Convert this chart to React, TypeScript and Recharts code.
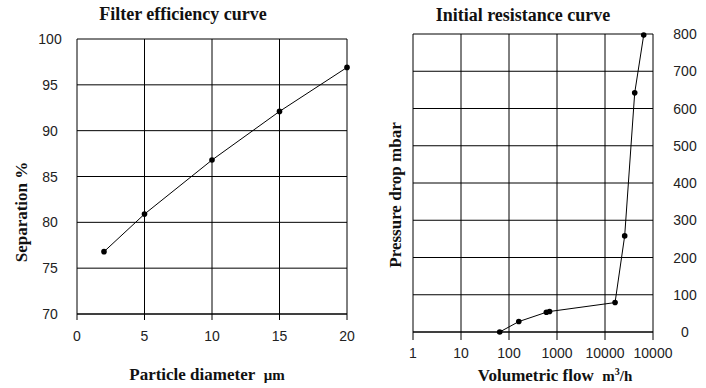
import { LineChart, Line, XAxis, YAxis, CartesianGrid } from "recharts";

// Filter efficiency curve
const diameters = [2, 5, 10, 15, 20];
const separation = [76.8, 80.9, 86.8, 92.1, 96.9];
const diameterTicks = [0, 5, 10, 15, 20];
const separationTicks = [70, 75, 80, 85, 90, 95, 100];

// Initial resistance curve
const flows = [64, 160, 600, 700, 16200, 25700, 41600, 64000];
const drops = [0, 28, 53, 55, 79, 258, 642, 797];
const flowTicks = [1, 10, 100, 1000, 10000, 100000];
const flowTickLabels = ["1", "10", "100", "1000", "10000", "10000"];
const dropTicks = [0, 100, 200, 300, 400, 500, 600, 700, 800];

const effData = diameters.map((d, i) => ({ d, sep: separation[i] }));
const resData = flows.map((f, i) => ({ f, p: drops[i] }));

const TICK_FONT = "'Liberation Sans', Arial, sans-serif";
const SERIF = "'Liberation Serif', 'Times New Roman', serif";

const tickText = (x: number, y: number, label: string) => (
  <text
    x={x}
    y={y}
    textAnchor="middle"
    dominantBaseline="central"
    fontFamily={TICK_FONT}
    fontSize={14}
    fill="#222"
  >
    {label}
  </text>
);

const Dot = (props: any) => {
  const { cx, cy } = props;
  if (cx == null || cy == null) return null;
  return <circle cx={cx} cy={cy} r={2.8} fill="#000" />;
};

const label = (
  text: React.ReactNode,
  x: number,
  y: number,
  size: number,
  rotate = false
) => (
  <div
    style={{
      position: "absolute",
      left: x,
      top: y,
      transform: `translate(-50%, -50%)${rotate ? " rotate(-90deg)" : ""}`,
      whiteSpace: "nowrap",
      fontFamily: SERIF,
      fontWeight: "bold",
      fontSize: size,
      lineHeight: 1,
      color: "#111",
    }}
  >
    {text}
  </div>
);

export default function App() {
  return (
    <div
      style={{
        position: "absolute",
        left: 0,
        top: 0,
        width: 706,
        height: 388,
        background: "#fff",
        overflow: "hidden",
      }}
    >
      <div style={{ position: "absolute", left: 0, top: 0 }}>
        <LineChart
          width={360}
          height={388}
          data={effData}
          margin={{ top: 39, right: 13, left: 0, bottom: 44 }}
        >
          <CartesianGrid stroke="#000" strokeWidth={1} />
          <XAxis
            dataKey="d"
            type="number"
            domain={[0, 20]}
            ticks={diameterTicks}
            interval={0}
            height={30}
            axisLine={{ stroke: "#000" }}
            tickLine={{ stroke: "#000" }}
            tickSize={6}
            tick={(p: any) => tickText(p.x, 336, String(p.payload.value))}
          />
          <YAxis
            type="number"
            domain={[70, 100]}
            ticks={separationTicks}
            interval={0}
            width={77}
            axisLine={false}
            tickLine={false}
            tick={(p: any) => tickText(50, p.y, String(p.payload.value))}
          />
          <Line
            dataKey="sep"
            stroke="#000"
            strokeWidth={1}
            dot={<Dot />}
            isAnimationActive={false}
          />
        </LineChart>
      </div>

      <div style={{ position: "absolute", left: 360, top: 0 }}>
        <LineChart
          width={346}
          height={388}
          data={resData}
          margin={{ top: 34, right: 0, left: 53, bottom: 26 }}
        >
          <CartesianGrid stroke="#000" strokeWidth={1} />
          <XAxis
            dataKey="f"
            type="number"
            scale="log"
            domain={[1, 100000]}
            ticks={flowTicks}
            interval={0}
            height={30}
            axisLine={{ stroke: "#000" }}
            tickLine={{ stroke: "#000" }}
            tickSize={8}
            tick={(p: any) =>
              tickText(
                p.x,
                353,
                flowTickLabels[flowTicks.indexOf(p.payload.value)] ?? ""
              )
            }
          />
          <YAxis
            orientation="right"
            type="number"
            domain={[0, 800]}
            ticks={dropTicks}
            interval={0}
            width={53}
            axisLine={false}
            tickLine={false}
            tick={(p: any) => tickText(325, p.y, String(p.payload.value))}
          />
          <Line
            dataKey="p"
            stroke="#000"
            strokeWidth={1}
            dot={<Dot />}
            isAnimationActive={false}
          />
        </LineChart>
      </div>

      {label("Filter efficiency curve", 183, 14, 18)}
      {label("Initial resistance curve", 523, 15, 18)}
      {label("Separation %", 21, 212, 17, true)}
      {label("Pressure drop mbar", 395, 195, 17, true)}
      {label(
        <span>
          Particle diameter&nbsp;{" "}
          <span style={{ fontSize: 15 }}>μm</span>
        </span>,
        207,
        374,
        17
      )}
      {label(
        <span>
          Volumetric flow&nbsp;{" "}
          <span style={{ fontSize: 15 }}>
            m<sup style={{ fontSize: 10 }}>3</sup>/h
          </span>
        </span>,
        555,
        375,
        17
      )}
    </div>
  );
}
